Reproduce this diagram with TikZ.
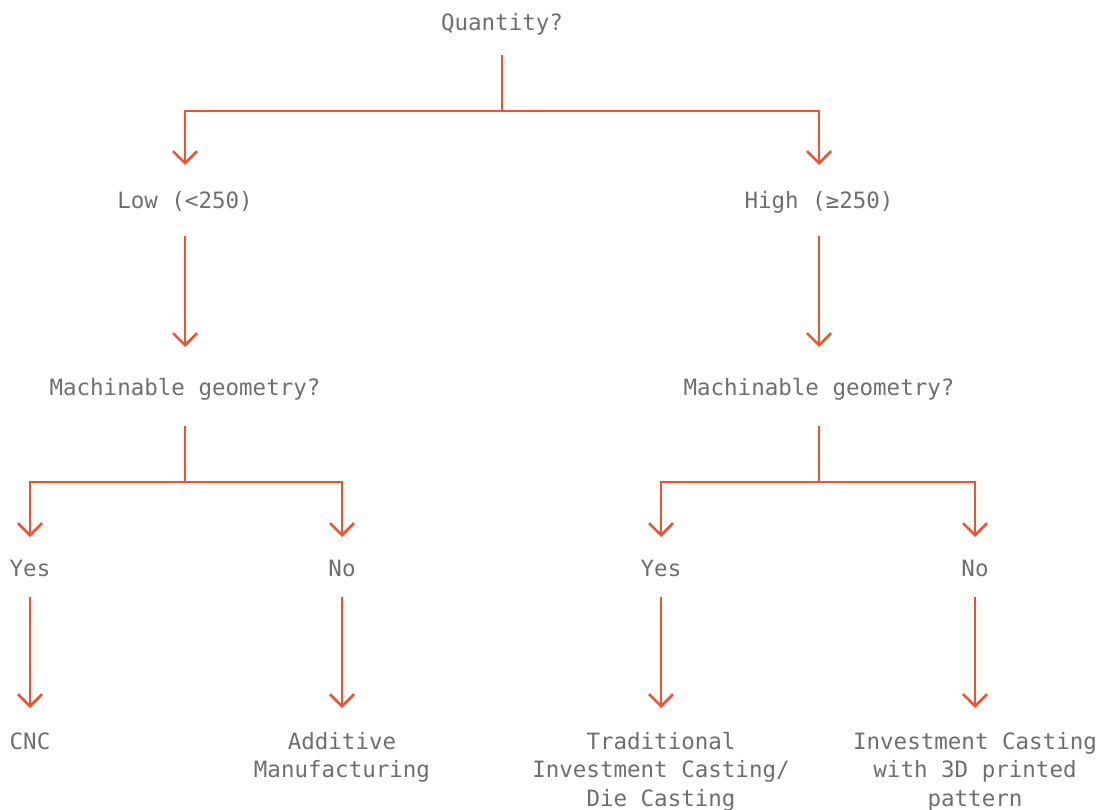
\documentclass[tikz,border=0pt]{standalone}
\usepackage{fontspec}
\usetikzlibrary{arrows.meta}
\newfontfamily\diagfont{DejaVu Sans Mono}
\definecolor{linec}{HTML}{EE5230}
\definecolor{textc}{HTML}{6E6E6E}
\begin{document}
\begin{tikzpicture}[x=1pt,y=-1pt,
  lbl/.style={font=\diagfont\fontsize{22.5}{28.5}\selectfont, text=textc, inner sep=0pt, anchor=base, align=center},
  conn/.style={draw=linec, line width=2.6pt},
  arr/.style={conn, -{Straight Barb[length=12pt,width=24pt]}}]
\useasboundingbox (0,0) rectangle (1100,810);
% nodes (anchor = baseline of the last line)
\node[lbl] (q) at (502,31) {Quantity?};
\node[lbl] (low) at (185,209) {Low (<250)};
\node[lbl] (high) at (819,209) {High (≥250)};
\node[lbl] (ml) at (185,395) {Machinable geometry?};
\node[lbl] (mr) at (819,395) {Machinable geometry?};
\node[lbl] (yl) at (30,576) {Yes};
\node[lbl] (nl) at (342,576) {No};
\node[lbl] (yr) at (661,576) {Yes};
\node[lbl] (nr) at (975,576) {No};
\node[lbl] (cnc) at (30,749) {CNC};
\node[lbl] (am) at (342,777.5) {Additive\\Manufacturing};
\node[lbl] (tic) at (661,806) {Traditional\\Investment Casting/\\Die Casting};
\node[lbl] (ic3d) at (975,806) {Investment Casting\\with 3D printed\\pattern};
% junctions
\coordinate (j1) at (502,111);
\coordinate (j2) at (185,482);
\coordinate (j3) at (819,482);
% connectors
\draw[conn, shorten <=24pt] (q.base) -- (j1);
\draw[arr, shorten >=44pt] (j1) -| (low.base);
\draw[arr, shorten >=44pt] (j1) -| (high.base);
\draw[arr, shorten <=27pt, shorten >=48pt] (low.base) -- (ml.base);
\draw[arr, shorten <=27pt, shorten >=48pt] (high.base) -- (mr.base);
\draw[conn, shorten <=31pt] (ml.base) -- (j2);
\draw[conn, shorten <=31pt] (mr.base) -- (j3);
\draw[arr, shorten >=39pt] (j2) -| (yl.base);
\draw[arr, shorten >=39pt] (j2) -| (nl.base);
\draw[arr, shorten >=39pt] (j3) -| (yr.base);
\draw[arr, shorten >=39pt] (j3) -| (nr.base);
\draw[arr, shorten <=21pt, shorten >=41pt] (yl.base) -- (cnc.base);
\draw[arr, shorten <=21pt, shorten >=69.5pt] (nl.base) -- (am.base);
\draw[arr, shorten <=21pt, shorten >=98pt] (yr.base) -- (tic.base);
\draw[arr, shorten <=21pt, shorten >=98pt] (nr.base) -- (ic3d.base);
\end{tikzpicture}
\end{document}
